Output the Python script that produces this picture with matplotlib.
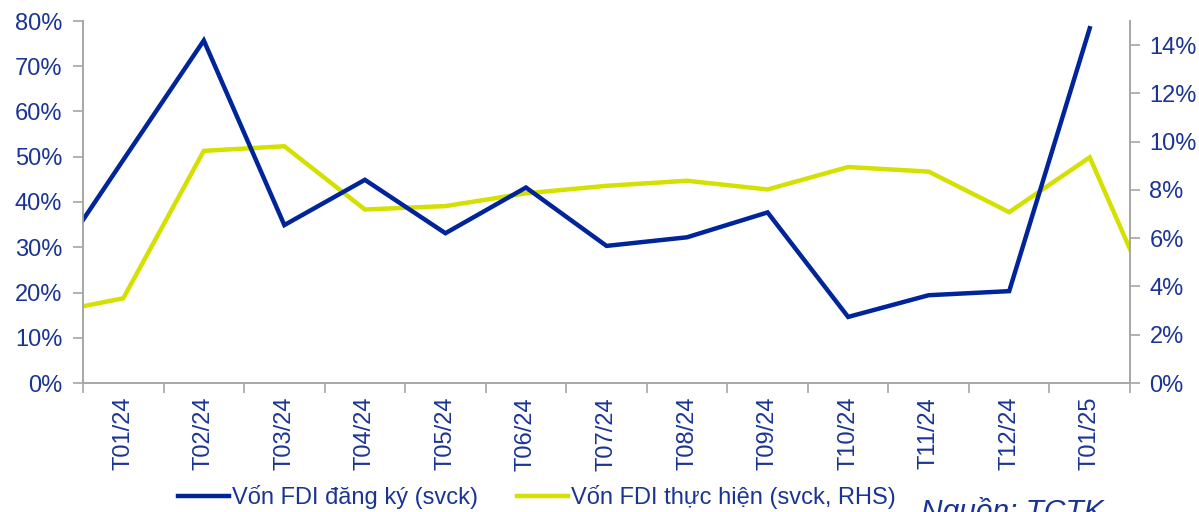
import numpy as np
import matplotlib
matplotlib.use("Agg")
import matplotlib.pyplot as plt

plt.rcParams['font.family'] = ['Liberation Sans', 'DejaVu Sans']

# months shown on the axis; first/last entries are partly outside the plot area
months = ['T12/23', 'T01/24', 'T02/24', 'T03/24', 'T04/24', 'T05/24', 'T06/24',
          'T07/24', 'T08/24', 'T09/24', 'T10/24', 'T11/24', 'T12/24', 'T01/25', 'T02/25']
visible_labels = months[1:14]

# FDI registered capital, % yoy (left axis)
fdi_dang_ky = [22.8, 49.3, 75.7, 34.9, 44.9, 33.1, 43.2, 30.3, 32.2, 37.7,
               14.6, 19.4, 20.3, 78.4]
# FDI disbursed capital, % yoy (right axis)
fdi_thuc_hien = [2.85, 3.51, 9.62, 9.81, 7.19, 7.33, 7.86, 8.17, 8.38, 8.02,
                 8.95, 8.76, 7.08, 9.35, 1.75]

blue = '#00249A'
yellow = '#D4E000'
text_blue = '#1A3494'
spine_gray = '#A6A6A6'
fs = 17

fig = plt.figure(figsize=(11.99, 5.12), dpi=100)
ax = fig.add_axes([83 / 1199, 1 - 383 / 512, (1130 - 83) / 1199, (383 - 21) / 512])
ax2 = ax.twinx()

x_blue = np.arange(len(fdi_dang_ky)) - 1
x_yel = np.arange(len(fdi_thuc_hien)) - 1

ax.plot(x_blue, np.array(fdi_dang_ky) / 100, color=blue, lw=3.2,
        label='Vốn FDI đăng ký (svck)', solid_joinstyle='miter')
ax2.plot(x_yel, np.array(fdi_thuc_hien) / 100, color=yellow, lw=3.2,
         label='Vốn FDI thực hiện (svck, RHS)', solid_joinstyle='miter')
ax.set_zorder(ax2.get_zorder() + 1)
ax.patch.set_visible(False)

ax.set_xlim(-0.5, 12.5)
ax.set_ylim(0, 0.8)
ax2.set_ylim(0, 0.15)

ax.set_yticks(np.arange(0, 0.81, 0.1))
ax.set_yticklabels([f'{int(round(v * 100))}%' for v in np.arange(0, 0.81, 0.1)])
ax2.set_yticks(np.arange(0, 0.141, 0.02))
ax2.set_yticklabels([f'{int(round(v * 100))}%' for v in np.arange(0, 0.141, 0.02)])

ax.set_xticks(np.arange(13))
ax.set_xticklabels(visible_labels, rotation=90)
ax.set_xticks(np.arange(14) - 0.5, minor=True)
ax.tick_params(axis='x', which='major', length=0, pad=10, labelsize=fs,
               labelcolor=text_blue)
ax.tick_params(axis='x', which='minor', length=7, width=1.2, color=spine_gray)
ax.tick_params(axis='y', length=7, width=1.2, color=spine_gray, labelsize=fs,
               labelcolor=text_blue, pad=8)
ax2.tick_params(axis='y', length=7, width=1.2, color=spine_gray, labelsize=fs,
                labelcolor=text_blue, pad=7)

for a in (ax, ax2):
    a.spines['top'].set_visible(False)
    for s in ('left', 'right', 'bottom'):
        a.spines[s].set_color(spine_gray)
        a.spines[s].set_linewidth(1.2)

handles = ax.get_lines() + ax2.get_lines()
fig.legend(handles, [h.get_label() for h in handles], loc='center left',
           bbox_to_anchor=(169 / 1199, 1 - 497 / 512), ncol=2, frameon=False,
           fontsize=fs, handlelength=2.15, handletextpad=0.12, columnspacing=1.65,
           labelcolor=text_blue, borderaxespad=0)

fig.text(921 / 1199, 1 - 497 / 512, 'Nguồn: TCTK', fontsize=21.5, style='italic',
         color=text_blue, va='top', ha='left')

fig.savefig('out.png', dpi=100)
